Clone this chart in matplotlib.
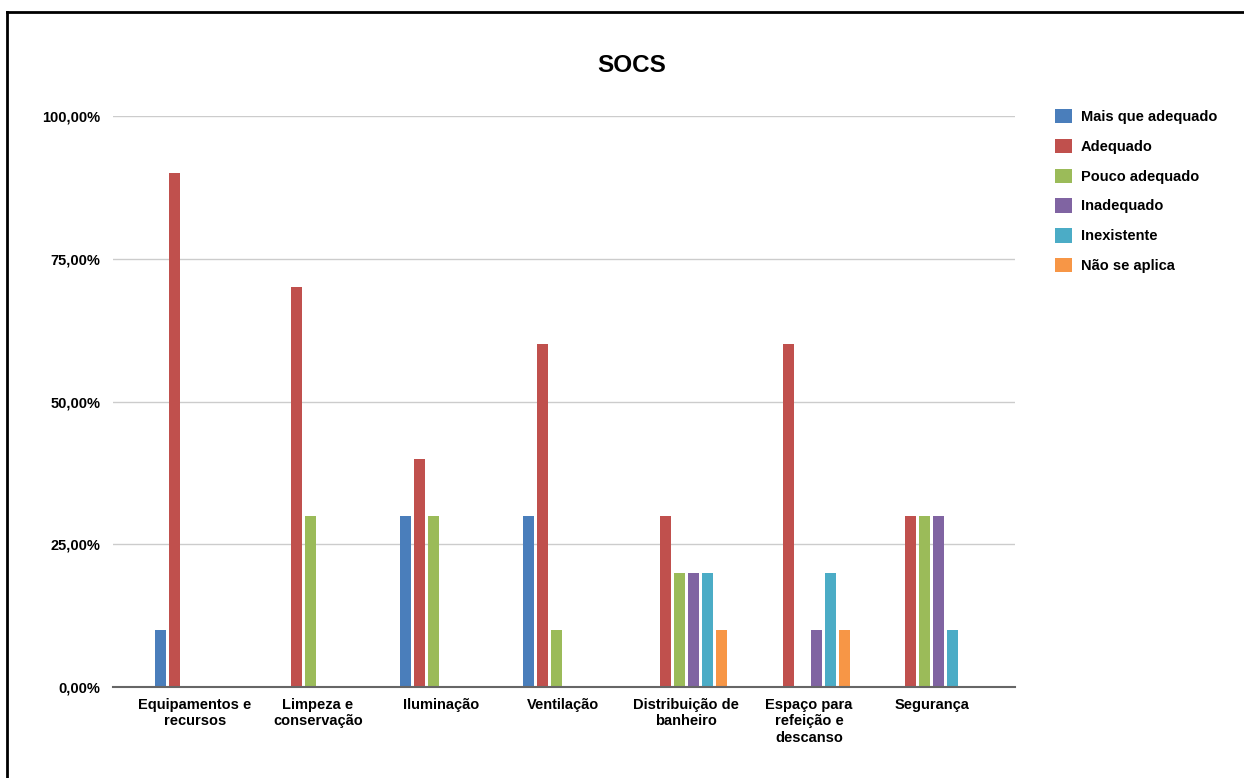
import numpy as np
import matplotlib.pyplot as plt
from matplotlib.ticker import FuncFormatter
from matplotlib.lines import Line2D

plt.rcParams.update({
    "font.family": "Liberation Sans",
    "font.weight": "bold",
    "font.size": 10.5,
})

categories = [
    "Equipamentos e\nrecursos",
    "Limpeza e\nconservação",
    "Iluminação",
    "Ventilação",
    "Distribuição de\nbanheiro",
    "Espaço para\nrefeição e\ndescanso",
    "Segurança",
]
series_names = ["Mais que adequado", "Adequado", "Pouco adequado",
                "Inadequado", "Inexistente", "Não se aplica"]

mais_que_adequado = [10, 0, 30, 30, 0, 0, 0]
adequado          = [90, 70, 40, 60, 30, 60, 30]
pouco_adequado    = [0, 30, 30, 10, 20, 0, 30]
inadequado        = [0, 0, 0, 0, 20, 10, 30]
inexistente       = [0, 0, 0, 0, 20, 20, 10]
nao_se_aplica     = [0, 0, 0, 0, 10, 10, 0]

colors = ["#4A7EBB", "#C0504D", "#9BBB59", "#8064A2", "#4BACC6", "#F79646"]

fig = plt.figure(figsize=(12.44, 7.78), dpi=100)
ax = fig.add_axes([113 / 1244, 1 - 687 / 778, (1015 - 113) / 1244, (687 - 116) / 778])

x = np.arange(len(categories))
step = 0.114
width = 0.09
all_series = [mais_que_adequado, adequado, pouco_adequado,
              inadequado, inexistente, nao_se_aplica]
for i, (vals, name, col) in enumerate(zip(all_series, series_names, colors)):
    ax.bar(x + (i - 2.5) * step, vals, width=width, color=col, label=name,
           zorder=3)

ax.set_xlim(-0.668, 6.677)
ax.set_ylim(0, 100)
ax.set_yticks([0, 25, 50, 75, 100])
ax.yaxis.set_major_formatter(FuncFormatter(lambda v, p: f"{v:.2f}%".replace(".", ",")))
ax.set_xticks(x)
ax.set_xticklabels(categories, fontweight="bold", linespacing=1.2)
ax.tick_params(axis="both", length=0, labelsize=10.5)
ax.tick_params(axis="y", pad=9)
ax.tick_params(axis="x", pad=8)
ax.grid(axis="y", color="#cccccc", linewidth=1, zorder=0)
for s in ["top", "right", "left"]:
    ax.spines[s].set_visible(False)
ax.spines["bottom"].set_color("#666666")
ax.spines["bottom"].set_linewidth(1.5)
ax.spines["bottom"].set_zorder(4)

fig.text(632 / 1244, 1 - 66 / 778, "SOCS", ha="center", va="center",
         fontsize=17.5, fontweight="bold")

ax.legend(loc="upper left", bbox_to_anchor=(1055 / 1244, 1 - 109 / 778),
          bbox_transform=fig.transFigure, frameon=False, fontsize=10.5,
          handlelength=1.15, handleheight=1.15, handletextpad=0.6,
          labelspacing=1.0, borderaxespad=0, borderpad=0)

# partial frame from the screenshot (top and left edges)
fig.add_artist(Line2D([7 / 1244, 7 / 1244], [0, 1 - 12 / 778],
                      transform=fig.transFigure, color="black", linewidth=2))
fig.add_artist(Line2D([7 / 1244, 1], [1 - 12 / 778, 1 - 12 / 778],
                      transform=fig.transFigure, color="black", linewidth=2))

fig.savefig("out.png", dpi=100)
